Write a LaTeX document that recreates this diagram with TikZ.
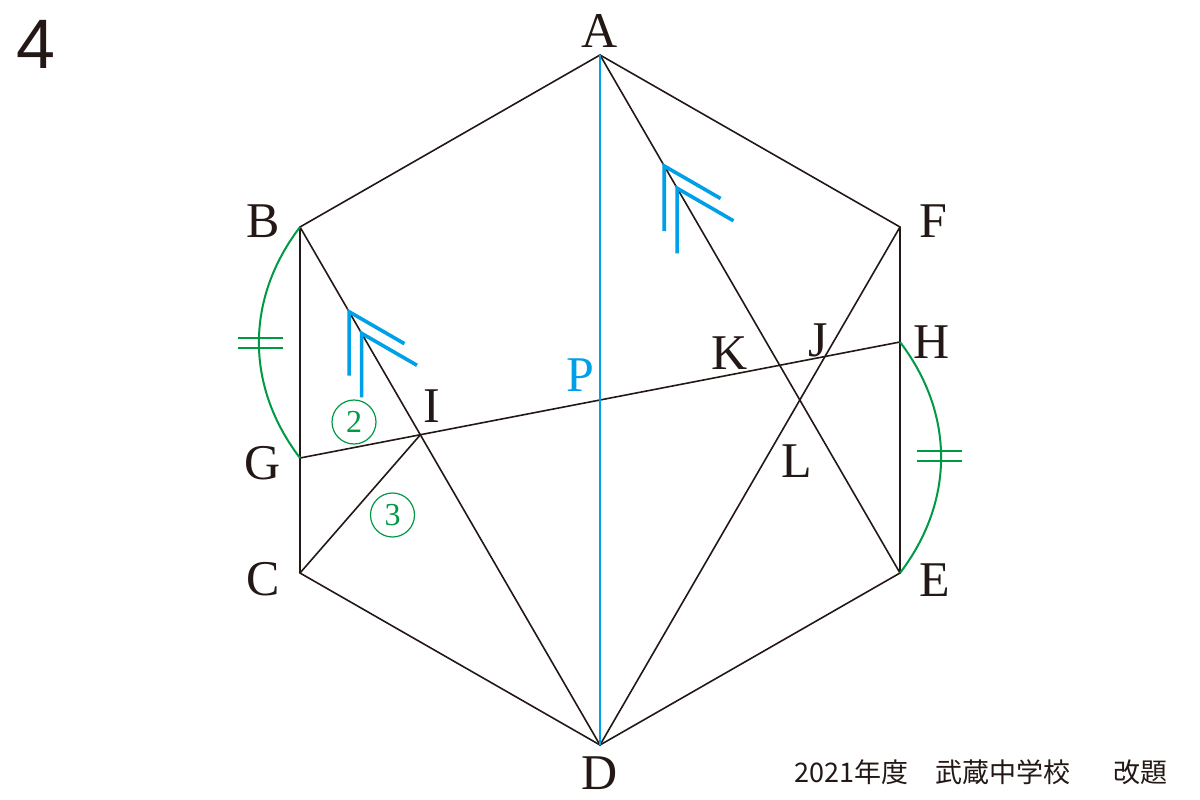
\documentclass[tikz,border=0pt]{standalone}
\usepackage{fontspec}
\setmainfont{Liberation Serif}
\newfontfamily\jpfont{Noto Sans CJK JP}
\newfontfamily\numfont{Liberation Sans}
\usetikzlibrary{calc}
\definecolor{myblue}{RGB}{0,160,233}
\definecolor{mygreen}{RGB}{0,153,68}
\definecolor{myblack}{RGB}{35,24,21}
\begin{document}
\begin{tikzpicture}[x=1pt,y=-1pt,
  lbl/.style={font=\fontsize{50}{50}\selectfont, inner sep=0pt, text=myblack},
  edge/.style={draw=myblack, line width=1.6pt},
  chev/.style={draw=myblue, line width=3.6pt},
  gline/.style={draw=mygreen, line width=2pt},
  eqmark/.style={draw=mygreen, line width=2pt},
  circnum/.style={draw=mygreen, line width=1.2pt, circle, minimum size=44pt, inner sep=0pt,
     text=mygreen, font=\fontsize{32}{32}\selectfont}]
\useasboundingbox (0,0) rectangle (1200,800);
% points
\coordinate (A) at (600,55);
\coordinate (B) at (300,227);
\coordinate (C) at (300,573);
\coordinate (D) at (600,745);
\coordinate (E) at (900,573);
\coordinate (F) at (900,227);
\coordinate (G) at (300,458);
\coordinate (H) at (900,342);
\coordinate (I) at (intersection of G--H and B--D);
% hexagon and lines
\draw[edge, line join=miter] (A) -- (B) -- (C) -- (D) -- (E) -- (F) -- cycle;
\draw[edge] (B) -- (D);
\draw[edge] (A) -- (E);
\draw[edge] (D) -- (F);
\draw[edge] (G) -- (H);
\draw[edge] (C) -- (I);
\draw[draw=myblue, line width=1.8pt] (A) -- (D);
% green arcs
\draw[gline] (B) .. controls ($(B)+(-54.8,71.9)$) and ($(G)+(-54.8,-71.9)$) .. (G);
\draw[gline] (H) .. controls ($(H)+(54.8,71.9)$) and ($(E)+(54.8,-71.9)$) .. (E);
% equal marks
\draw[eqmark] (238,338) -- (283,338);
\draw[eqmark] (238,348) -- (283,348);
\draw[eqmark] (917,451) -- (962,451);
\draw[eqmark] (917,461) -- (962,461);
% parallel chevrons on BD
\coordinate (b1) at ($(B)!0.1635!(D)$);
\coordinate (b2) at ($(B)!0.2052!(D)$);
\draw[chev] ($(b1)+(0,64)$) -- (b1) -- ($(b1)+(55.4,32)$);
\draw[chev] ($(b2)+(0,64)$) -- (b2) -- ($(b2)+(55.4,32)$);
% parallel chevrons on AE
\coordinate (a1) at ($(A)!0.2143!(E)$);
\coordinate (a2) at ($(A)!0.2573!(E)$);
\draw[chev] ($(a1)+(0,65)$) -- (a1) -- ($(a1)+(56.3,32.5)$);
\draw[chev] ($(a2)+(0,65)$) -- (a2) -- ($(a2)+(56.3,32.5)$);
% labels
\node[lbl] (lA) at (600,31) {A};
\node[lbl] (lB) at (263,221) {B};
\node[lbl] (lF) at (933,221) {F};
\node[lbl] (lH) at (932,342) {H};
\node[lbl] (lG) at (263,463) {G};
\node[lbl] (lC) at (263,579) {C};
\node[lbl] (lE) at (935,580) {E};
\node[lbl] (lD) at (600,773) {D};
\node[lbl] (lI) at (432,406) {I};
\node[lbl] (lK) at (730,353) {K};
\node[lbl] (lJ) at (818,340) {J};
\node[lbl] (lL) at (797,461) {L};
\node[lbl, text=myblue] (lP) at (580,375) {P};
% circled numbers
\node[circnum] (n2) at (354,422) {2};
\node[circnum] (n3) at (392.5,515) {3};
% title number
\node[inner sep=0pt, font=\numfont\fontsize{70}{70}\selectfont, text=myblack] (num) at (36,44) {4};
% source
\node[inner sep=0pt, anchor=east, font=\jpfont\fontsize{27}{27}\selectfont, text=myblack] (src) at (1168,772) {2021年度　武蔵中学校　\hspace{16pt}改題};
\end{tikzpicture}
\end{document}
